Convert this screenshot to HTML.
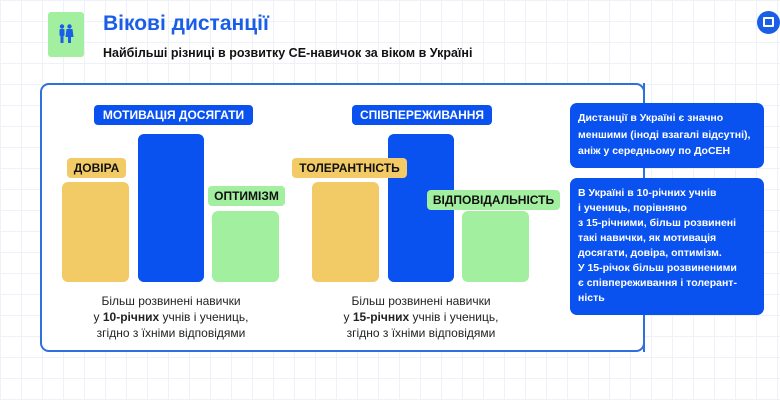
<!DOCTYPE html>
<html><head><meta charset="utf-8"><style>
*{margin:0;padding:0;box-sizing:border-box}
body{width:780px;height:400px;overflow:hidden;position:relative;font-family:"Liberation Sans",sans-serif;
background-color:#fff;background-image:linear-gradient(#eef2f8 1px,transparent 1px),linear-gradient(90deg,#eef2f8 1px,transparent 1px);background-size:21px 21px}
.a{position:absolute}
.bar{position:absolute;border-radius:6px}
.y{background:#f2ca66}.b{background:#0a52f0}.g{background:#a3efa0}
.lab{position:absolute;height:20px;border-radius:4px;font-weight:bold;font-size:12px;line-height:20px;text-align:center;white-space:nowrap}
.lb{background:#0a52f0;color:#fff}.ly{background:#f2ca66;color:#111}.lg{background:#a3efa0;color:#111}
.cap{position:absolute;width:250px;text-align:center;font-size:12px;line-height:16px;color:#222}
.card{position:absolute;left:570px;width:194px;background:#0a52f0;color:#fff;border-radius:7px;font-weight:bold;font-size:10.5px;padding:8px 8px;white-space:nowrap}
</style></head><body>
<div class="a" style="left:48px;top:12px;width:36px;height:45px;background:#a3efa0;border-radius:3px"></div>
<svg class="a" style="left:54px;top:24px" width="24" height="20" viewBox="0 0 24 20"><g fill="#1a5ee8"><circle cx="8" cy="2.5" r="2.2"/><rect x="5.5" y="5" width="5" height="7" rx="1"/><rect x="6.5" y="11" width="3" height="8"/><circle cx="15.5" cy="2.5" r="2.2"/><path d="M12.5 5h6l1 8h-8z"/><rect x="14" y="12" width="3" height="7"/></g></svg>
<div class="a" style="left:103px;top:12px;font-size:21px;font-weight:bold;color:#1a5ee8">Вікові дистанції</div>
<div class="a" style="left:103px;top:46px;font-size:12.5px;font-weight:bold;color:#111">Найбільші різниці в розвитку СЕ-навичок за віком в Україні</div>
<div class="a" style="left:757px;top:11px;width:23px;height:23px;border-radius:50%;background:#1a5ee8"></div>
<div class="a" style="left:763px;top:17px;width:11px;height:10px;border:2px solid #fff;border-radius:1px"></div>
<div class="a" style="left:40px;top:83px;width:605px;height:269px;border:2px solid #2f6fe0;border-radius:9px;background:#fff"></div>
<div class="a" style="left:643px;top:83px;width:2px;height:20px;background:#2f6fe0"></div>

<div class="bar y" style="left:62px;top:182px;width:67px;height:100px"></div>
<div class="bar b" style="left:138px;top:134px;width:66px;height:148px"></div>
<div class="bar g" style="left:212px;top:211px;width:67px;height:71px"></div>
<div class="lab lb" style="left:94px;top:105px;width:159px">МОТИВАЦІЯ ДОСЯГАТИ</div>
<div class="lab ly" style="left:67px;top:158px;width:59px">ДОВІРА</div>
<div class="lab lg" style="left:208px;top:186px;width:77px">ОПТИМІЗМ</div>
<div class="cap" style="left:46px;top:293px">Більш розвинені навички<br>у <b>10-річних</b> учнів і учениць,<br>згідно з їхніми відповідями</div>

<div class="bar y" style="left:312px;top:182px;width:67px;height:100px"></div>
<div class="bar b" style="left:388px;top:134px;width:66px;height:148px"></div>
<div class="bar g" style="left:462px;top:211px;width:67px;height:71px"></div>
<div class="lab lb" style="left:352px;top:105px;width:140px">СПІВПЕРЕЖИВАННЯ</div>
<div class="lab ly" style="left:292px;top:158px;width:115px">ТОЛЕРАНТНІСТЬ</div>
<div class="lab lg" style="left:427px;top:190px;width:133px">ВІДПОВІДАЛЬНІСТЬ</div>
<div class="cap" style="left:296px;top:293px">Більш розвинені навички<br>у <b>15-річних</b> учнів і учениць,<br>згідно з їхніми відповідями</div>

<div class="a" style="left:643px;top:315px;width:2px;height:37px;background:#2f6fe0"></div>
<div class="card" style="top:103px;height:65px;line-height:16.5px;padding-top:7px">Дистанції в Україні є значно<br>меншими (іноді взагалі відсутні),<br>аніж у середньому по ДоСЕН</div>
<div class="card" style="top:178px;height:137px;line-height:15px">В Україні в 10-річних учнів<br>і учениць, порівняно<br>з 15-річними, більш розвинені<br>такі навички, як мотивація<br>досягати, довіра, оптимізм.<br>У 15-річок більш розвиненими<br>є співпереживання і толерант-<br>ність</div>
</body></html>
